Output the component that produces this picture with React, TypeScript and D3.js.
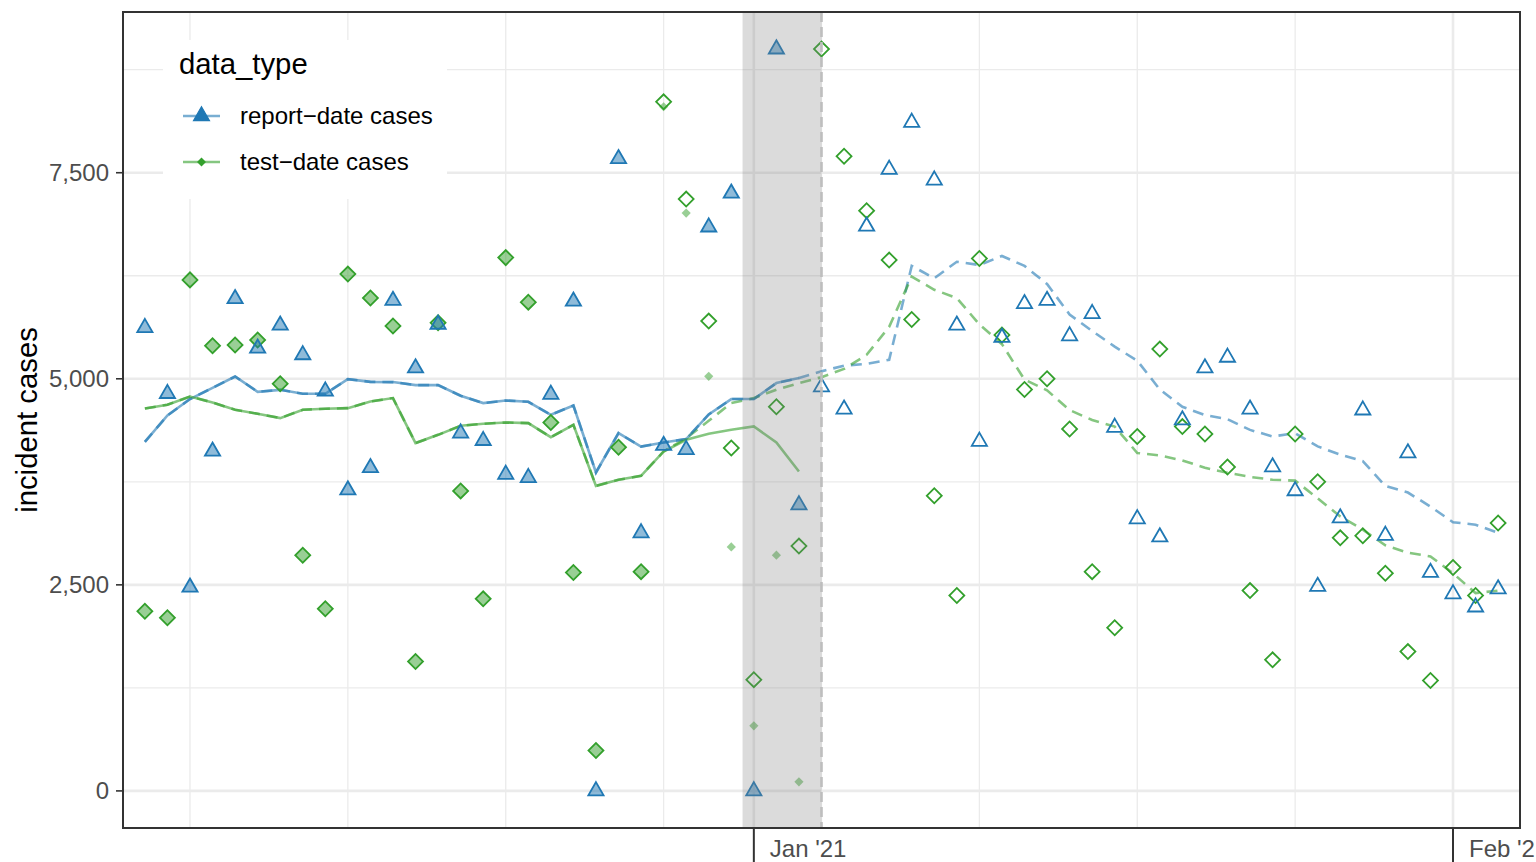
import React from 'react';
import * as d3 from 'd3';

const START = Date.UTC(2020, 11, 5);
const dates: Date[] = d3.utcDay.range(new Date(START), new Date(Date.UTC(2021, 1, 4)));

// report-date cases (daily)
const reportCases = [
  5620, 4820, 2470, 4120, 5970, 5370, 5650, 5290, 4850, 3650,
  3920, 5950, 5130, 5660, 4340, 4250, 3840, 3800, 4810, 5940,
  0, 7670, 3130, 4190, 4140, 6840, 7250, 0, 9000, 3470,
  4900, 4630, 6850, 7540, 8110, 7410, 5650, 4240, 5500, 5910,
  5950, 5520, 5790, 4410, 3300, 3080, 4500, 5130, 5260, 4630,
  3930, 3640, 2480, 3310, 4620, 3100, 4100, 2650, 2390, 2230, 2450,
];
// report-date 7-day average
const reportAvg = [
  4235, 4555, 4754, 4890, 5028, 4842, 4866, 4818, 4818, 4996,
  4963, 4960, 4923, 4923, 4794, 4705, 4737, 4721, 4563, 4676,
  3863, 4341, 4178, 4227, 4268, 4567, 4754, 4754, 4948, 5009,
  5090, 5160, 5180, 5230, 6370, 6220, 6420, 6380, 6490, 6370,
  6150, 5780, 5580, 5390, 5220, 4870, 4660, 4560, 4510, 4380,
  4300, 4340, 4180, 4080, 4000, 3700, 3620, 3450, 3260, 3230, 3130,
];
// test-date cases, finalized
const testFinal = [
  2180, 2100, 6200, 5400, 5410, 5470, 4940, 2860, 2210, 6270,
  5980, 5640, 1570, 5680, 3640, 2330, 6470, 5930, 4470, 2650,
  490, 4170, 2660, 8360, 7180, 5700, 4160, 1350, 4660, 2970,
  9000, 7700, 7040, 6440, 5720, 3580, 2370, 6460, 5530, 4870,
  5000, 4390, 2660, 1980, 4300, 5360, 4420, 4330, 3930, 2430,
  1590, 4330, 3750, 3070, 3095, 2640, 1690, 1340, 2710, 2370, 3250,
];
// test-date cases, as of forecast date
const testAsOf = [
  2180, 2100, 6200, 5400, 5410, 5470, 4940, 2860, 2210, 6270,
  5980, 5640, 1570, 5680, 3640, 2330, 6470, 5930, 4470, 2650,
  490, 4170, 2660, 8300, 7010, 5030, 2960, 790, 2860, 110,
];
const testAsOfAvg = [
  4640, 4685, 4785, 4713, 4624, 4575, 4523, 4624, 4636, 4644,
  4725, 4766, 4220, 4320, 4430, 4454, 4470, 4462, 4292, 4442,
  3701, 3774, 3823, 4118, 4260, 4333, 4381, 4422, 4227, 3875,
];
const testFinalAvg = [
  4640, 4685, 4785, 4713, 4624, 4575, 4523, 4624, 4636, 4644,
  4725, 4766, 4220, 4320, 4430, 4454, 4470, 4462, 4292, 4442,
  3701, 3774, 3823, 4118, 4280, 4490, 4705, 4766, 4867, 4948,
  5020, 5120, 5290, 5630, 6240, 6080, 5980, 5660, 5420, 4990,
  4860, 4620, 4500, 4420, 4100, 4070, 4010, 3920, 3860, 3810,
  3775, 3765, 3550, 3330, 3170, 2980, 2890, 2845, 2640, 2400, 2430,
];

const yTicks = [0, 2500, 5000, 7500];
const yMinorTicks = [1250, 3750, 6250, 8750];
const seriesLabels = ['report\u2212date cases', 'test\u2212date cases'];
const legendTitle = 'data_type';
const yTitle = 'incident cases';
const FORECAST_DATE = new Date(Date.UTC(2021, 0, 4));
const SHADE_START = new Date(Date.UTC(2020, 11, 31, 12));

const BLUE = '#1F78B4';
const GREEN = '#33A02C';
const FONT = '"Liberation Sans", Arial, Helvetica, sans-serif';

const W = 1536, H = 862;
const L = 123, R = 1520, T = 12, B = 828;

export default function App() {
  const DAY = 864e5;
  const x = d3.scaleUtc()
    .domain([new Date(START - 0.97 * DAY), new Date(dates[dates.length - 1].getTime() + 0.97 * DAY)])
    .range([L, R]);
  const y = d3.scaleLinear().domain([-450, 9450]).range([B, T]);

  const minorX = d3.utcMonday.range(x.domain()[0], x.domain()[1]);
  const majorX = d3.utcMonth.range(x.domain()[0], x.domain()[1]);
  const fmt = (d: Date) => d3.utcFormat("%b '%y")(d);

  const line = d3.line<number>().x((_, i) => x(dates[i])).y(v => y(v));

  const tri = d3.symbol().type(d3.symbolTriangle).size(100)()!;
  const sq = d3.symbol().type(d3.symbolSquare).size(112)()!;
  const sqSmall = d3.symbol().type(d3.symbolSquare).size(42)()!;
  const triLegend = d3.symbol().type(d3.symbolTriangle).size(110)()!;
  const sqLegend = d3.symbol().type(d3.symbolSquare).size(40)()!;

  const dash = '11 7';
  const fmtNum = d3.format(',');

  return (
    <svg width={W} height={H} style={{ position: 'absolute', left: 0, top: 0, background: '#fff' }} fontFamily={FONT}>
      <rect x={0} y={0} width={W} height={H} fill="#fff" />
      {/* grid */}
      <g>
        {yMinorTicks.map(v => (
          <line key={'ym' + v} x1={L} x2={R} y1={y(v)} y2={y(v)} stroke="#EBEBEB" strokeWidth={1.3} />
        ))}
        {minorX.map(d => (
          <line key={'xm' + d.getTime()} x1={x(d)} x2={x(d)} y1={T} y2={B} stroke="#EBEBEB" strokeWidth={1.3} />
        ))}
        {yTicks.map(v => (
          <line key={'yM' + v} x1={L} x2={R} y1={y(v)} y2={y(v)} stroke="#EBEBEB" strokeWidth={2.6} />
        ))}
        {majorX.map(d => (
          <line key={'xM' + d.getTime()} x1={x(d)} x2={x(d)} y1={T} y2={B} stroke="#EBEBEB" strokeWidth={2.6} />
        ))}
      </g>
      {/* lines */}
      <path d={line(reportAvg)!} fill="none" stroke={BLUE} strokeOpacity={0.6} strokeWidth={2.6} strokeDasharray={dash} />
      <path d={line(testFinalAvg)!} fill="none" stroke={GREEN} strokeOpacity={0.6} strokeWidth={2.6} strokeDasharray={dash} />
      <path d={line(reportAvg.slice(0, testAsOfAvg.length))!} fill="none" stroke={BLUE} strokeOpacity={0.6} strokeWidth={2.6} />
      <path d={line(testAsOfAvg)!} fill="none" stroke={GREEN} strokeOpacity={0.6} strokeWidth={2.6} />
      {/* test points */}
      {testFinal.map((v, i) => {
        const asOf = i < testAsOf.length ? testAsOf[i] : null;
        const same = asOf !== null && asOf === v;
        return (
          <g key={'t' + i}>
            <path d={sq} transform={`translate(${x(dates[i])},${y(v)}) rotate(45)`}
              fill={same ? GREEN : 'none'} fillOpacity={same ? 0.5 : 0} stroke={GREEN} strokeWidth={1.8} />
            {asOf !== null && !same && (
              <path d={sqSmall} transform={`translate(${x(dates[i])},${y(asOf)}) rotate(45)`} fill={GREEN} fillOpacity={0.5} />
            )}
          </g>
        );
      })}
      {/* report points */}
      {reportCases.map((v, i) => {
        const filled = i < testAsOf.length;
        return (
          <path key={'r' + i} d={tri} transform={`translate(${x(dates[i])},${y(v)})`}
            fill={filled ? BLUE : 'none'} fillOpacity={filled ? 0.5 : 0} stroke={BLUE} strokeWidth={1.8} />
        );
      })}
      {/* shading and forecast line */}
      <rect x={x(SHADE_START)} y={T} width={x(FORECAST_DATE) - x(SHADE_START)} height={B - T} fill="#7F7F7F" fillOpacity={0.28} />
      <line x1={x(FORECAST_DATE)} x2={x(FORECAST_DATE)} y1={T} y2={B} stroke="#BEBEBE" strokeWidth={2.6} strokeDasharray="10 5" />
      {/* legend */}
      <g>
        <rect x={163} y={40} width={284} height={159} fill="#fff" />
        <text x={179} y={74} fontSize={29.3} fill="#000">{legendTitle}</text>
        <line x1={183} x2={220} y1={116} y2={116} stroke={BLUE} strokeOpacity={0.6} strokeWidth={2.6} />
        <path d={triLegend} transform={`translate(201.5,116)`} fill={BLUE} stroke={BLUE} strokeWidth={1.2} />
        <text x={240} y={124} fontSize={24} fill="#000">{seriesLabels[0]}</text>
        <line x1={183} x2={220} y1={162} y2={162} stroke={GREEN} strokeOpacity={0.6} strokeWidth={2.6} />
        <path d={sqLegend} transform={`translate(201.5,162) rotate(45)`} fill={GREEN} />
        <text x={240} y={170} fontSize={24} fill="#000">{seriesLabels[1]}</text>
      </g>
      {/* panel border */}
      <rect x={L} y={T} width={R - L} height={B - T} fill="none" stroke="#333333" strokeWidth={2} />
      {/* y axis */}
      {yTicks.map(v => (
        <g key={'yt' + v}>
          <line x1={L - 7} x2={L} y1={y(v)} y2={y(v)} stroke="#333333" strokeWidth={1.6} />
          <text x={L - 14} y={y(v)} dy="0.35em" textAnchor="end" fontSize={24} fill="#4D4D4D">{fmtNum(v)}</text>
        </g>
      ))}
      <text transform={`translate(37,${(T + B) / 2}) rotate(-90)`} textAnchor="middle" fontSize={29.3} fill="#000">{yTitle}</text>
      {/* x axis */}
      {majorX.map(d => (
        <g key={'xt' + d.getTime()}>
          <line x1={x(d)} x2={x(d)} y1={B} y2={H + 2} stroke="#333333" strokeWidth={2} />
          <text x={x(d) + 16} y={857} fontSize={24} fill="#4D4D4D">{fmt(d)}</text>
        </g>
      ))}
    </svg>
  );
}
